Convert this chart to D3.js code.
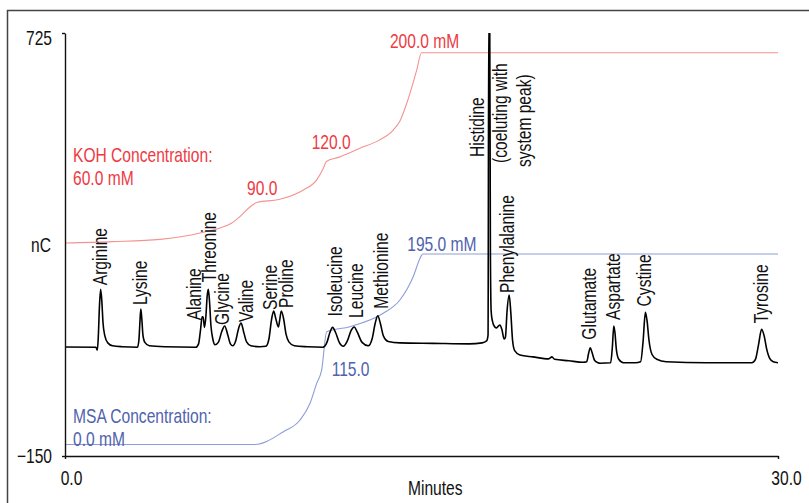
<!DOCTYPE html>
<html>
<head>
<meta charset="utf-8">
<script src="https://cdn.jsdelivr.net/npm/d3@7"></script>
<style>
  html, body { margin: 0; padding: 0; background: #fff; }
  svg { display: block; }
  text { font-family: 'Liberation Sans', Arial, sans-serif; }
</style>
</head>
<body>
<div id="chart"></div>
<script>
// Amino acid chromatogram with KOH / MSA gradient overlays

const xTicks = [0, 30];
const yTicks = [-150, 725];

// detector trace, [minutes, nC]
const trace = [
  [0, 75.5], [1.30, 75], [1.36, 69], [1.40, 95], [1.45, 160], [1.50, 195], [1.55, 170], [1.60, 125], [1.68, 98], [1.80, 84], [2.0, 78], [2.4, 76],
  [3.05, 75], [3.11, 90], [3.15, 125], [3.19, 154], [3.23, 135], [3.28, 100], [3.36, 85], [3.55, 78], [4.2, 76],
  [5.50, 75], [5.62, 82], [5.70, 110], [5.77, 138], [5.81, 138], [5.87, 116], [5.93, 140], [5.98, 180], [6.03, 195], [6.08, 170], [6.14, 120], [6.22, 92], [6.31, 80],
  [6.45, 85], [6.60, 108], [6.72, 119], [6.84, 102], [6.96, 82], [7.06, 78],
  [7.18, 88], [7.31, 115], [7.41, 125], [7.52, 106], [7.64, 86], [7.82, 78], [8.2, 76],
  [8.45, 77], [8.58, 92], [8.69, 132], [8.78, 150], [8.86, 136], [8.98, 117], [9.03, 130], [9.10, 150], [9.19, 136], [9.30, 102], [9.42, 86], [9.65, 78], [10.2, 76],
  [10.85, 75], [11.02, 85], [11.15, 106], [11.26, 116], [11.38, 106], [11.55, 84], [11.71, 77],
  [11.88, 88], [12.04, 110], [12.17, 117], [12.30, 106], [12.50, 85], [12.76, 78],
  [12.92, 92], [13.05, 124], [13.16, 140], [13.27, 124], [13.40, 98], [13.60, 87], [14.1, 84], [15.5, 83], [17.0, 82], [17.55, 84], [17.74, 88],
  [17.80, 100], [17.83, 760], [17.87, 760], [17.90, 260], [17.93, 150], [17.98, 130], [18.08, 117], [18.16, 115], [18.24, 119], [18.30, 121],
  [18.38, 112], [18.48, 92], [18.53, 95], [18.60, 150], [18.69, 183], [18.76, 145], [18.83, 90], [18.92, 68], [19.14, 59], [19.69, 55],
  [20.35, 51], [20.49, 55], [20.60, 50], [21.2, 47], [21.8, 44],
  [21.95, 45], [22.03, 62], [22.10, 74], [22.17, 65], [22.28, 48], [22.42, 43], [22.52, 42],
  [22.96, 43], [23.03, 75], [23.09, 119], [23.14, 105], [23.20, 70], [23.30, 50], [23.50, 43], [24.0, 43],
  [24.22, 45], [24.32, 85], [24.42, 147], [24.49, 130], [24.57, 90], [24.70, 60], [24.90, 50], [25.3, 45], [27.0, 43], [28.9, 43],
  [29.05, 50], [29.18, 80], [29.31, 112], [29.42, 98], [29.52, 72], [29.65, 52], [29.8, 45], [30.0, 43]
];

// labelled peaks
const peakNames = ['Arginine', 'Lysine', 'Alanine', 'Threonine', 'Glycine', 'Valine', 'Serine', 'Proline',
  'Isoleucine', 'Leucine', 'Methionine', 'Phenylalanine', 'Glutamate', 'Aspartate', 'Cystine', 'Tyrosine'];
const peakTimes = [1.50, 3.19, 5.79, 6.03, 6.72, 7.41, 8.78, 9.10, 11.26, 12.17, 13.16, 18.69, 22.10, 23.09, 24.42, 29.31];
const peakHeights = [195, 154, 139, 195, 119, 125, 150, 150, 116, 117, 140, 183, 74, 119, 147, 112];
const histidineTime = 17.83;
const histidineLines = ['Histidine', '(coeluting with', 'system peak)'];

// eluent gradients, [minutes, mM]
const kohTime = [0, 2, 4, 5, 5.68, 6.52, 7.0, 7.36, 7.78, 8.0, 8.1, 9.0, 10.03, 10.59, 10.87, 11.0, 11.5, 12.41, 13.2, 13.81, 14.1, 14.38, 14.6, 14.8, 15.0, 30];
const kohConc = [60, 61, 62.7, 65, 67.4, 71, 74.5, 79.4, 86.5, 89.2, 90, 92, 99, 106.4, 115, 120, 123, 129.7, 135.5, 143.1, 150, 162.8, 175, 187.3, 200, 200];
const msaTime = [0, 8.0, 9.19, 9.89, 10.31, 10.59, 10.80, 11.01, 11.99, 13.39, 14.09, 14.65, 14.94, 15.05, 30];
const msaConc = [0, 0, 13.1, 25.1, 42.2, 62.6, 76.3, 115.5, 120.6, 134.3, 147.9, 171.8, 190.6, 195, 195];

// --- layout ---
const W = 809, H = 503;
const RED = '#ee3a43', RED_LINE = '#f39391';
const BLUE = '#4f63ad', BLUE_LINE = '#8d9dd6';
const FS = '20px';
const SQ = 0.78; // horizontal squeeze to mimic a condensed face

// label nudges [dx, gap above apex] in px
const labelNudge = {
  Arginine: [0, 4], Lysine: [0, 4], Alanine: [-8, -4], Threonine: [2, 7], Glycine: [-2, 1], Valine: [6, 1],
  Serine: [-3, 1], Proline: [6, 3], Isoleucine: [3, 11], Leucine: [3, 9], Methionine: [4, 7],
  Phenylalanine: [-1, 2], Glutamate: [0, 8], Aspartate: [0, 6], Cystine: [0, 6], Tyrosine: [0, 6]
};

const x = d3.scaleLinear().domain([0, 30]).range([65, 778]);
const y = d3.scaleLinear().domain([-150, 725]).range([456, 33]);
const kohY = d3.scaleLinear().domain([60, 200]).range([243, 52.7]);
const msaY = d3.scaleLinear().domain([0, 195]).range([444.5, 254]);

const svg = d3.select('#chart').append('svg')
  .attr('width', W).attr('height', H)
  .attr('viewBox', `0 0 ${W} ${H}`);

// condensed text helper
function label(px, py, str, color, rotate) {
  return svg.append('text')
    .attr('transform', `translate(${px},${py})${rotate ? ' rotate(-90)' : ''} scale(${SQ},1)`)
    .attr('font-size', FS).attr('fill', color || '#111')
    .text(str);
}

// frame (top + left only)
svg.append('path')
  .attr('d', `M7.5,${H} V10.5 H${W}`)
  .attr('fill', 'none')
  .attr('stroke', '#444')
  .attr('stroke-width', 1.5);

svg.append('clipPath').attr('id', 'plot-clip')
  .append('rect').attr('x', 60).attr('y', 33).attr('width', 730).attr('height', 423);

// gradient curves
const kohLine = d3.line().x(i => x(kohTime[i])).y(i => kohY(kohConc[i])).curve(d3.curveMonotoneX);
svg.append('path')
  .attr('d', kohLine(d3.range(kohTime.length)))
  .attr('fill', 'none').attr('stroke', RED_LINE).attr('stroke-width', 1.1);

const msaLine = d3.line().x(i => x(msaTime[i])).y(i => msaY(msaConc[i])).curve(d3.curveMonotoneX);
svg.append('path')
  .attr('d', msaLine(d3.range(msaTime.length)))
  .attr('fill', 'none').attr('stroke', BLUE_LINE).attr('stroke-width', 1.1);

// chromatogram
const traceLine = d3.line().x(d => x(d[0])).y(d => y(d[1])).curve(d3.curveMonotoneX);
svg.append('path')
  .attr('clip-path', 'url(#plot-clip)')
  .attr('d', traceLine(trace))
  .attr('fill', 'none').attr('stroke', '#000').attr('stroke-width', 1.6)
  .attr('stroke-linejoin', 'round');

// axes
const yAxis = svg.append('g')
  .attr('transform', 'translate(65,0)')
  .call(d3.axisLeft(y).tickValues(yTicks).tickSizeInner(3).tickSizeOuter(0).tickPadding(10).tickFormat(d3.format('d')));
const xAxis = svg.append('g')
  .attr('transform', 'translate(0,456)')
  .call(d3.axisBottom(x).tickValues(xTicks).tickSizeInner(3).tickSizeOuter(0).tickPadding(12).tickFormat(d3.format('.1f')));

[yAxis, xAxis].forEach(g => {
  g.select('.domain').attr('stroke', '#111').attr('stroke-width', 1.4);
  g.selectAll('.tick line').attr('stroke', '#111').attr('stroke-width', 1.4);
  g.selectAll('.tick text').attr('font-size', FS).attr('fill', '#111')
    .style('font-family', "'Liberation Sans', Arial, sans-serif")
    .attr('transform', `scale(${SQ},1)`);
});
yAxis.selectAll('.tick text').attr('x', -13 / SQ);
yAxis.selectAll('.tick text').filter(d => d === 725).attr('dy', '0.55em');
xAxis.selectAll('.tick text').attr('x', d => (d === 0 ? 6 : 8) / SQ);

label(31, 252, 'nC');
label(408, 495, 'Minutes');

// peak labels
peakNames.forEach((name, i) => {
  const [dx, gap] = labelNudge[name] || [0, 5];
  label(x(peakTimes[i]) + 6 + dx, y(peakHeights[i]) - gap, name, '#111', true);
});

// histidine block
const hisOffsets = [[-5, 157], [18, 163], [42, 167]];
histidineLines.forEach((line, i) => {
  label(x(histidineTime) + hisOffsets[i][0], hisOffsets[i][1], line, '#111', true);
});

// gradient annotations
const gradLabels = [
  { lines: ['KOH Concentration:', '60.0 mM'], t: 0, px: 8, py: kohY(60) - 81, color: RED },
  { lines: ['90.0'], t: 7.66, px: 0, py: kohY(90) - 7, color: RED },
  { lines: ['120.0'], t: 10.38, px: 0, py: kohY(120) - 12, color: RED },
  { lines: ['200.0 mM'], t: 13.67, px: 0, py: kohY(200) - 5, color: RED },
  { lines: ['195.0 mM'], t: 14.4, px: 0, py: msaY(195) - 3, color: BLUE },
  { lines: ['115.0'], t: 11.22, px: 0, py: msaY(115) + 44, color: BLUE },
  { lines: ['MSA Concentration:', '0.0 mM'], t: 0, px: 8, py: msaY(0) - 21.5, color: BLUE }
];
gradLabels.forEach(l => {
  l.lines.forEach((s, j) => label(x(l.t) + l.px, l.py + j * 23, s, l.color));
});
</script>
</body>
</html>
